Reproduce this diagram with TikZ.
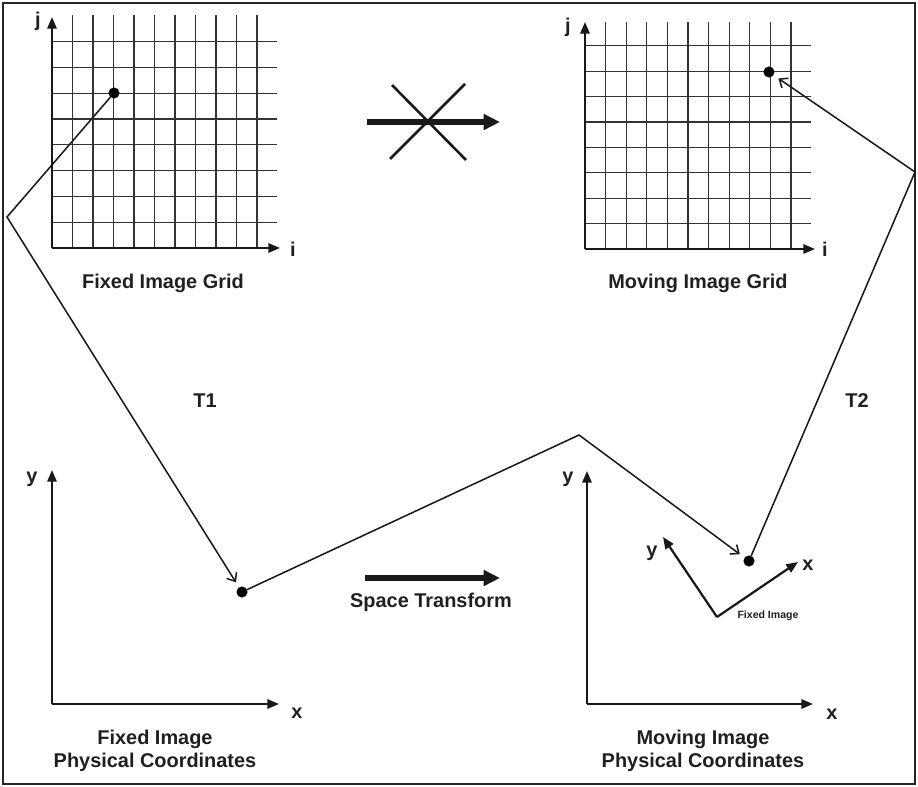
\documentclass[tikz,border=0pt]{standalone}
\usepackage{fontspec}
\setmainfont{Liberation Sans}
\usetikzlibrary{arrows.meta,calc}

\begin{document}
\begin{tikzpicture}[x=0.03cm,y=-0.03cm,
    axis/.style={line width=1.9pt,black!90,-{Triangle[length=10pt,width=8pt]}},
    gridline/.style={line width=1pt,black!80},
    link/.style={line width=1.3pt,black!90,-{Straight Barb[length=6pt,width=10pt,line width=1.3pt]},shorten >=5pt},
    bigarrow/.style={line width=4.3pt,black!90,-{Triangle[length=14pt,width=13pt]}},
    crossline/.style={line width=2.2pt,black!90},
    dot/.style={circle,fill=black,inner sep=0pt,minimum size=9.5pt,outer sep=0pt},
    lbl/.style={font=\bfseries\fontsize{17}{19.6}\selectfont,text=black!88,align=center,inner sep=0pt},
    small/.style={font=\bfseries\fontsize{9}{11}\selectfont,text=black!88,inner sep=0pt}]
  \useasboundingbox (0,0) rectangle (918,787);
  \draw[line width=2.5pt,black!85] (3,3) rectangle (915,784);

  % fixed image grid
  \foreach \k in {1,...,10} \draw[gridline] ({52+20.5*\k},15) -- ({52+20.5*\k},248);
  \foreach \k in {1,...,8} \draw[gridline] (52,{248-25.8*\k}) -- (277,{248-25.8*\k});
  \draw[axis] (52,248) -- (52,17);
  \draw[axis] (52,248) -- (280,248);
  \node[lbl] (jf) at (38,21) {j};
  \node[lbl] (if) at (293,249) {i};
  \node[lbl] (gf) at (163,283) {Fixed Image Grid};

  % moving image grid
  \foreach \k in {1,...,10} \draw[gridline] ({585+20.6*\k},22) -- ({585+20.6*\k},249);
  \foreach \k in {1,...,8} \draw[gridline] (585,{249-25.4*\k}) -- (811,{249-25.4*\k});
  \draw[axis] (585,249) -- (585,22);
  \draw[axis] (585,249) -- (815,249);
  \node[lbl] (jm) at (568,27) {j};
  \node[lbl] (im) at (825,249) {i};
  \node[lbl] (gm) at (698,283) {Moving Image Grid};

  % crossed out arrow
  \coordinate (ca) at (367,122);
  \coordinate (cb) at (500,122);
  \draw[bigarrow] (ca) -- (cb);
  \draw[crossline] (392,85) -- (466,160);
  \draw[crossline] (465,84) -- (390,159);

  % physical coordinates
  \draw[axis] (52,704) -- (52,470);
  \draw[axis] (52,704) -- (279,704);
  \node[lbl] (yf) at (32,479) {y};
  \node[lbl] (xf) at (297,713) {x};
  \node[lbl] (cf) at (155,751) {Fixed Image\\Physical Coordinates};

  \draw[axis] (587,704) -- (587,471);
  \draw[axis] (587,704) -- (813,704);
  \node[lbl] (ym) at (568,479) {y};
  \node[lbl] (xm) at (832,714) {x};
  \node[lbl] (cm) at (703,751) {Moving Image\\Physical Coordinates};

  % rotated fixed image frame
  \coordinate (ro) at (717,617);
  \draw[axis] (ro) -- (663,537);
  \draw[axis] (ro) -- (798,562);
  \node[lbl] (yr) at (652,553) {y};
  \node[lbl] (xr) at (808,565) {x};
  \node[small] (fr) at (768,616) {Fixed Image};

  % space transform
  \coordinate (sa) at (365,578);
  \coordinate (sb) at (500,578);
  \draw[bigarrow] (sa) -- (sb);
  \node[lbl] (st) at (431,602) {Space Transform};

  % points and mappings
  \node[dot] (pf) at (114,93) {};
  \node[dot] (pm) at (769,72) {};
  \node[dot] (qf) at (242,592) {};
  \node[dot] (qm) at (749,561) {};
  \coordinate (b1) at (7,217);
  \coordinate (b2) at (579,435);
  \coordinate (b3) at (915,172);
  \draw[link] (pf) -- (b1) -- (qf);
  \draw[link] (qf) -- (b2) -- (qm);
  \draw[link] (qm) -- (b3) -- (pm);
  \node[lbl] (t1) at (205,401) {T1};
  \node[lbl] (t2) at (857,401) {T2};
\end{tikzpicture}
\end{document}
